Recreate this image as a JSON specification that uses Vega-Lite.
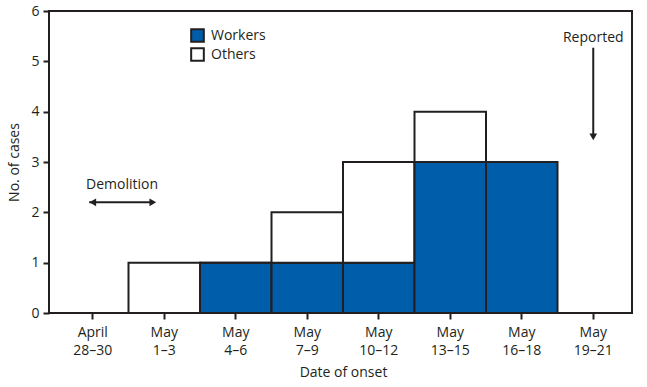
{
  "$schema": "https://vega.github.io/schema/vega-lite/v6.json",
  "width": 583,
  "height": 302,
  "autosize": {"type": "none"},
  "padding": {"left": 49, "top": 11, "right": 15, "bottom": 74},
  "background": "white",
  "config": {
    "font": "Open Sans",
    "view": {"stroke": "#231f20", "strokeWidth": 2},
    "axis": {"labelFont": "Open Sans", "titleFont": "Open Sans", "labelFontSize": 14, "titleFontSize": 14, "titleFontWeight": "normal", "labelColor": "#231f20", "titleColor": "#231f20", "tickColor": "#231f20", "domainColor": "#231f20", "grid": false}
  },
  "data": {"values": [
    {"date": "April 28–30", "series": "Workers", "cases": 0},
    {"date": "April 28–30", "series": "Others", "cases": 0},
    {"date": "May 1–3", "series": "Workers", "cases": 0},
    {"date": "May 1–3", "series": "Others", "cases": 1},
    {"date": "May 4–6", "series": "Workers", "cases": 1},
    {"date": "May 4–6", "series": "Others", "cases": 0},
    {"date": "May 7–9", "series": "Workers", "cases": 1},
    {"date": "May 7–9", "series": "Others", "cases": 1},
    {"date": "May 10–12", "series": "Workers", "cases": 1},
    {"date": "May 10–12", "series": "Others", "cases": 2},
    {"date": "May 13–15", "series": "Workers", "cases": 3},
    {"date": "May 13–15", "series": "Others", "cases": 1},
    {"date": "May 16–18", "series": "Workers", "cases": 3},
    {"date": "May 16–18", "series": "Others", "cases": 0},
    {"date": "May 19–21", "series": "Workers", "cases": 0},
    {"date": "May 19–21", "series": "Others", "cases": 0}
  ]},
  "encoding": {
    "x": {
      "field": "date", "type": "nominal", "sort": null,
      "scale": {"domain": ["April 28–30", "May 1–3", "May 4–6", "May 7–9", "May 10–12", "May 13–15", "May 16–18", "May 19–21"], "paddingInner": 0, "paddingOuter": 0, "range": [8, 580]},
      "axis": {"title": "Date of onset", "labelAngle": 0, "labelExpr": "split(datum.label, ' ')", "labelLineHeight": 18, "tickSize": 6, "tickWidth": 2, "labelPadding": 6, "domain": false, "titlePadding": 8}
    }
  },
  "layer": [
    {
      "mark": {"type": "bar", "stroke": "#231f20", "strokeWidth": 2},
      "encoding": {
        "y": {"field": "cases", "type": "quantitative", "aggregate": "sum", "stack": "zero",
          "scale": {"domain": [0, 6], "nice": false},
          "axis": {"title": "No. of cases", "values": [0, 1, 2, 3, 4, 5, 6], "tickSize": 6, "tickWidth": 2, "domain": false, "labelPadding": 4, "titlePadding": 9}},
        "color": {"field": "series", "type": "nominal",
          "scale": {"domain": ["Workers", "Others"], "range": ["#005DAA", "#ffffff"]},
          "legend": {"title": null, "orient": "none", "legendX": 141, "legendY": 17, "symbolType": "square", "symbolSize": 160, "symbolStrokeColor": "#231f20", "symbolStrokeWidth": 2, "labelFontSize": 14, "labelFont": "Open Sans", "labelColor": "#231f20", "rowPadding": -2, "labelOffset": 6}},
        "order": {"field": "series", "sort": "descending"}
      }
    },
    {
      "data": {"values": [{}]},
      "mark": {"type": "rule", "stroke": "#231f20", "strokeWidth": 2},
      "encoding": {
        "x": {"datum": "April 28–30", "bandPosition": 0.45},
        "x2": {"datum": "May 1–3", "bandPosition": 0.35},
        "y": {"datum": 2.2}
      }
    },
    {
      "data": {"values": [{}]},
      "mark": {"type": "point", "shape": "triangle-left", "filled": true, "color": "#231f20", "size": 60, "opacity": 1},
      "encoding": {"x": {"datum": "April 28–30", "bandPosition": 0.5}, "y": {"datum": 2.2}}
    },
    {
      "data": {"values": [{}]},
      "mark": {"type": "point", "shape": "triangle-right", "filled": true, "color": "#231f20", "size": 60, "opacity": 1},
      "encoding": {"x": {"datum": "May 1–3", "bandPosition": 0.34}, "y": {"datum": 2.2}}
    },
    {
      "data": {"values": [{}]},
      "mark": {"type": "text", "text": "Demolition", "fontSize": 14, "font": "Open Sans", "color": "#231f20"},
      "encoding": {"x": {"datum": "April 28–30", "bandPosition": 0.91}, "y": {"datum": 2.55}}
    },
    {
      "data": {"values": [{}]},
      "mark": {"type": "rule", "stroke": "#231f20", "strokeWidth": 2},
      "encoding": {"x": {"datum": "May 19–21"}, "y": {"datum": 5.27}, "y2": {"datum": 3.5}}
    },
    {
      "data": {"values": [{}]},
      "mark": {"type": "point", "shape": "triangle-down", "filled": true, "color": "#231f20", "size": 60, "opacity": 1},
      "encoding": {"x": {"datum": "May 19–21"}, "y": {"datum": 3.5}}
    },
    {
      "data": {"values": [{}]},
      "mark": {"type": "text", "text": "Reported", "fontSize": 14, "font": "Open Sans", "color": "#231f20"},
      "encoding": {"x": {"datum": "May 19–21"}, "y": {"datum": 5.46}}
    }
  ]
}
